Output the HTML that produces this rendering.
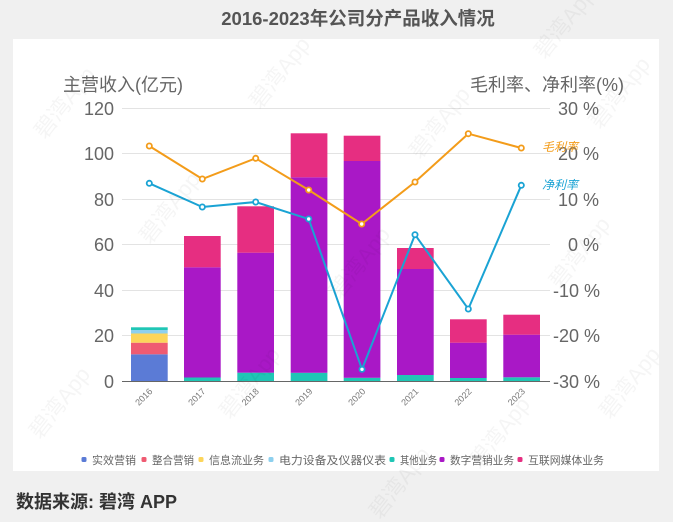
<!DOCTYPE html>
<html>
<head>
<meta charset="utf-8">
<style>
  html,body{margin:0;padding:0;background:#f0f0f0;}
  body{width:673px;height:522px;overflow:hidden;position:relative;}
  svg{display:block;}
  text{font-family:"Liberation Sans","Noto Sans CJK SC",sans-serif;}
</style>
</head>
<body>
<svg width="673" height="522" viewBox="0 0 673 522" xmlns="http://www.w3.org/2000/svg">
  <rect x="0" y="0" width="673" height="522" fill="#f0f0f0"/>
  <!-- title -->
  <text x="358" y="25" text-anchor="middle" font-size="18.5" font-weight="bold" fill="#555">2016-2023年公司分产品收入情况</text>
  <!-- panel -->
  <rect x="13" y="39" width="646" height="432" fill="#ffffff"/>

  <!-- axis titles -->
  <text x="63" y="91" font-size="18" fill="#666">主营收入(亿元)</text>
  <text x="624" y="91" font-size="18" fill="#666" text-anchor="end">毛利率、净利率(%)</text>

  <!-- gridlines -->
  <g stroke="#e3e3e3" stroke-width="1">
    <line x1="122" y1="108.5" x2="550" y2="108.5"/>
    <line x1="122" y1="153.5" x2="550" y2="153.5"/>
    <line x1="122" y1="199.5" x2="550" y2="199.5"/>
    <line x1="122" y1="244.5" x2="550" y2="244.5"/>
    <line x1="122" y1="290.5" x2="550" y2="290.5"/>
    <line x1="122" y1="335.5" x2="550" y2="335.5"/>
  </g>

  <!-- left tick labels -->
  <g font-size="18" fill="#666" text-anchor="end">
    <text x="114" y="115">120</text>
    <text x="114" y="160">100</text>
    <text x="114" y="206">80</text>
    <text x="114" y="251">60</text>
    <text x="114" y="297">40</text>
    <text x="114" y="342">20</text>
    <text x="114" y="388">0</text>
  </g>
  <!-- right tick labels -->
  <g font-size="18" fill="#666" text-anchor="end">
    <text x="599" y="115">30 %</text>
    <text x="599" y="160">20 %</text>
    <text x="599" y="206">10 %</text>
    <text x="599" y="251">0 %</text>
    <text x="600" y="297">-10 %</text>
    <text x="600" y="342">-20 %</text>
    <text x="600" y="388">-30 %</text>
  </g>

  <!-- bars -->
  <!-- 2016 -->
  <rect x="131" y="354.3" width="36.7" height="26.7" fill="#5b7bd6"/>
  <rect x="131" y="342.7" width="36.7" height="11.6" fill="#ef5b72"/>
  <rect x="131" y="333.5" width="36.7" height="9.2" fill="#fcd55a"/>
  <rect x="131" y="330" width="36.7" height="3.5" fill="#8dd0ee"/>
  <rect x="131" y="327.3" width="36.7" height="2.7" fill="#1fc6b5"/>
  <!-- 2017 -->
  <rect x="184" y="377.5" width="36.7" height="3.5" fill="#1fc6b5"/>
  <rect x="184" y="267.3" width="36.7" height="110.2" fill="#a918c6"/>
  <rect x="184" y="236" width="36.7" height="31.3" fill="#e62e81"/>
  <!-- 2018 -->
  <rect x="237.3" y="372.7" width="36.7" height="8.3" fill="#1fc6b5"/>
  <rect x="237.3" y="252.7" width="36.7" height="120" fill="#a918c6"/>
  <rect x="237.3" y="206.3" width="36.7" height="46.4" fill="#e62e81"/>
  <!-- 2019 -->
  <rect x="290.7" y="372.8" width="36.7" height="8.2" fill="#1fc6b5"/>
  <rect x="290.7" y="177.3" width="36.7" height="195.5" fill="#a918c6"/>
  <rect x="290.7" y="133.3" width="36.7" height="44" fill="#e62e81"/>
  <!-- 2020 -->
  <rect x="343.7" y="377.8" width="36.7" height="3.2" fill="#1fc6b5"/>
  <rect x="343.7" y="161" width="36.7" height="216.8" fill="#a918c6"/>
  <rect x="343.7" y="135.7" width="36.7" height="25.3" fill="#e62e81"/>
  <!-- 2021 -->
  <rect x="397" y="375" width="36.7" height="6" fill="#1fc6b5"/>
  <rect x="397" y="269" width="36.7" height="106" fill="#a918c6"/>
  <rect x="397" y="248" width="36.7" height="21" fill="#e62e81"/>
  <!-- 2022 -->
  <rect x="450" y="378" width="36.7" height="3" fill="#1fc6b5"/>
  <rect x="450" y="342.7" width="36.7" height="35.3" fill="#a918c6"/>
  <rect x="450" y="319.3" width="36.7" height="23.4" fill="#e62e81"/>
  <!-- 2023 -->
  <rect x="503.3" y="377.3" width="36.7" height="3.7" fill="#1fc6b5"/>
  <rect x="503.3" y="334.7" width="36.7" height="42.6" fill="#a918c6"/>
  <rect x="503.3" y="314.7" width="36.7" height="20" fill="#e62e81"/>

  <!-- x axis -->
  <line x1="122" y1="381.5" x2="550" y2="381.5" stroke="#666" stroke-width="1"/>

  <!-- x labels -->
  <g font-size="9" fill="#777" text-anchor="end">
    <text transform="translate(153,392) rotate(-45)">2016</text>
    <text transform="translate(206,392) rotate(-45)">2017</text>
    <text transform="translate(259.5,392) rotate(-45)">2018</text>
    <text transform="translate(313,392) rotate(-45)">2019</text>
    <text transform="translate(366,392) rotate(-45)">2020</text>
    <text transform="translate(419,392) rotate(-45)">2021</text>
    <text transform="translate(472.3,392) rotate(-45)">2022</text>
    <text transform="translate(525.7,392) rotate(-45)">2023</text>
  </g>

  <!-- gross margin line -->
  <polyline points="149.3,146 202.3,179 255.7,158.3 308.7,190 361.7,224 415,182 468.3,133.7 521.3,148" fill="none" stroke="#f39c1a" stroke-width="2"/>
  <g fill="#fff" stroke="#f39c1a" stroke-width="1.8">
    <circle cx="149.3" cy="146" r="2.6"/>
    <circle cx="202.3" cy="179" r="2.6"/>
    <circle cx="255.7" cy="158.3" r="2.6"/>
    <circle cx="308.7" cy="190" r="2.6"/>
    <circle cx="361.7" cy="224" r="2.6"/>
    <circle cx="415" cy="182" r="2.6"/>
    <circle cx="468.3" cy="133.7" r="2.6"/>
    <circle cx="521.3" cy="148" r="2.6"/>
  </g>
  <!-- net margin line -->
  <polyline points="149.3,183.3 202.3,207 255.7,202 308.7,219 362,369.3 415,234.7 468.3,309 521.3,185.3" fill="none" stroke="#1aa3d4" stroke-width="2"/>
  <g fill="#fff" stroke="#1aa3d4" stroke-width="1.8">
    <circle cx="149.3" cy="183.3" r="2.6"/>
    <circle cx="202.3" cy="207" r="2.6"/>
    <circle cx="255.7" cy="202" r="2.6"/>
    <circle cx="308.7" cy="219" r="2.6"/>
    <circle cx="362" cy="369.3" r="2.6"/>
    <circle cx="415" cy="234.7" r="2.6"/>
    <circle cx="468.3" cy="309" r="2.6"/>
    <circle cx="521.3" cy="185.3" r="2.6"/>
  </g>
  <!-- series labels -->
  <text x="542" y="151" font-size="12" font-style="italic" fill="#f39c1a">毛利率</text>
  <text x="542" y="189" font-size="12" font-style="italic" fill="#1aa3d4">净利率</text>

  <!-- legend -->
  <g font-size="11" fill="#666">
    <rect x="81.5" y="457" width="5" height="5" rx="1.5" fill="#5b7bd6"/>
    <text x="92" y="464" textLength="44" lengthAdjust="spacingAndGlyphs">实效营销</text>
    <rect x="141.5" y="457" width="5" height="5" rx="1.5" fill="#ef5b72"/>
    <text x="152" y="464" textLength="42" lengthAdjust="spacingAndGlyphs">整合营销</text>
    <rect x="198.5" y="457" width="5" height="5" rx="1.5" fill="#fcd55a"/>
    <text x="209" y="464" textLength="55" lengthAdjust="spacingAndGlyphs">信息流业务</text>
    <rect x="268.5" y="457" width="5" height="5" rx="1.5" fill="#8dd0ee"/>
    <text x="279" y="464" textLength="107" lengthAdjust="spacingAndGlyphs">电力设备及仪器仪表</text>
    <rect x="389.5" y="457" width="5" height="5" rx="1.5" fill="#1fc6b5"/>
    <text x="400" y="464" textLength="37" lengthAdjust="spacingAndGlyphs">其他业务</text>
    <rect x="439.5" y="457" width="5" height="5" rx="1.5" fill="#a918c6"/>
    <text x="450" y="464" textLength="64" lengthAdjust="spacingAndGlyphs">数字营销业务</text>
    <rect x="517.5" y="457" width="5" height="5" rx="1.5" fill="#e62e81"/>
    <text x="528" y="464" textLength="76" lengthAdjust="spacingAndGlyphs">互联网媒体业务</text>
  </g>

  <!-- source -->
  <text x="16" y="508" font-size="18" font-weight="bold" fill="#333">数据来源: 碧湾 APP</text>

  <!-- watermarks -->
  <g font-size="22" fill="#000" fill-opacity="0.04" font-family="Liberation Serif, Noto Serif CJK SC, serif">
    <text transform="translate(45,140) rotate(-52)">碧湾App</text>
    <text transform="translate(150,245) rotate(-52)">碧湾App</text>
    <text transform="translate(260,110) rotate(-52)">碧湾App</text>
    <text transform="translate(340,300) rotate(-52)">碧湾App</text>
    <text transform="translate(420,160) rotate(-52)">碧湾App</text>
    <text transform="translate(545,60) rotate(-52)">碧湾App</text>
    <text transform="translate(600,130) rotate(-52)">碧湾App</text>
    <text transform="translate(40,440) rotate(-52)">碧湾App</text>
    <text transform="translate(230,420) rotate(-52)">碧湾App</text>
    <text transform="translate(380,520) rotate(-52)">碧湾App</text>
    <text transform="translate(480,470) rotate(-52)">碧湾App</text>
    <text transform="translate(610,420) rotate(-52)">碧湾App</text>
    <text transform="translate(560,290) rotate(-52)">碧湾App</text>
  </g>
</svg>
</body>
</html>
